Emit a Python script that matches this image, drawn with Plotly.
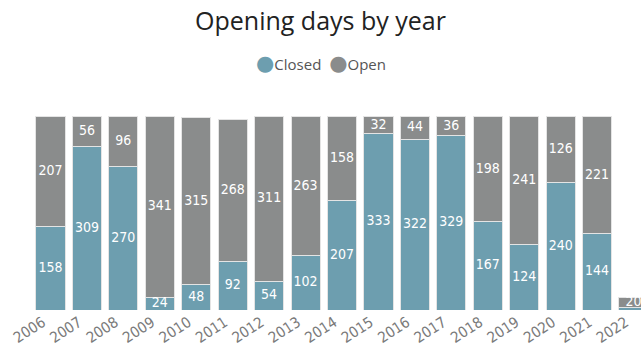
import plotly.graph_objects as go

years = [str(y) for y in range(2006, 2023)]
closed = [158, 309, 270, 24, 48, 92, 54, 102, 207, 333, 322, 329, 167, 124, 240, 144, 4]
open_ = [207, 56, 96, 341, 315, 268, 311, 263, 158, 32, 44, 36, 198, 241, 126, 221, 20]
series_names = ["Closed", "Open"]

teal = "#6D9EAF"
gray = "#8A8C8C"
label_font = dict(color="white", size=14, family="DejaVu Sans Condensed")

fig = go.Figure()
fig.add_trace(go.Bar(x=years, y=closed, name=series_names[0],
                     marker=dict(color=teal, line=dict(color="#E4E4E4", width=1)),
                     textposition="none", showlegend=False))
fig.add_trace(go.Bar(x=years, y=open_, name=series_names[1],
                     marker=dict(color=gray, line=dict(color="#E4E4E4", width=1)),
                     textposition="none", showlegend=False))

# data labels centred in each segment
closed_mid = [c / 2 for c in closed]
open_mid = [c + o / 2 for c, o in zip(closed, open_)]
closed_text = [str(v) if v >= 15 else "" for v in closed]
open_text = [str(v) for v in open_]
fig.add_trace(go.Scatter(x=years, y=closed_mid, text=closed_text, mode="text",
                         textfont=label_font, showlegend=False, hoverinfo="skip", cliponaxis=False))
fig.add_trace(go.Scatter(x=years, y=open_mid, text=open_text, mode="text",
                         textfont=label_font, showlegend=False, hoverinfo="skip", cliponaxis=False))

dot = "<span style='font-size:21px;font-family:DejaVu Sans;color:{c}'>●</span>"
legend_html = (dot.format(c=teal) + series_names[0] + "  " + dot.format(c=gray) + series_names[1])

fig.update_layout(
    width=641, height=352,
    barmode="stack", bargap=0.2,
    margin=dict(l=0, r=0, t=116, b=42),
    paper_bgcolor="white", plot_bgcolor="white",
    title=dict(text="Opening days by year", x=0.5, xanchor="center", y=0.94, yanchor="middle",
               font=dict(family="Open Sans", size=25, color="#222222")),
    annotations=[dict(text=legend_html, xref="paper", yref="paper", x=0.5, y=1.0,
                      xanchor="center", yanchor="middle", yshift=53,
                      showarrow=False, font=dict(family="Open Sans", size=15, color="#555555"))],
    showlegend=False,
)
fig.update_xaxes(type="category", range=[-1.386, 16.205], tickangle=-33, showgrid=False, showline=False,
                 ticks="", ticklabelshift=-8,
                 tickfont=dict(family="DejaVu Sans Condensed", size=15, color="#7A7A7A"))
fig.update_yaxes(visible=False, range=[0, 366], showgrid=False)

fig.write_html("out.html")
